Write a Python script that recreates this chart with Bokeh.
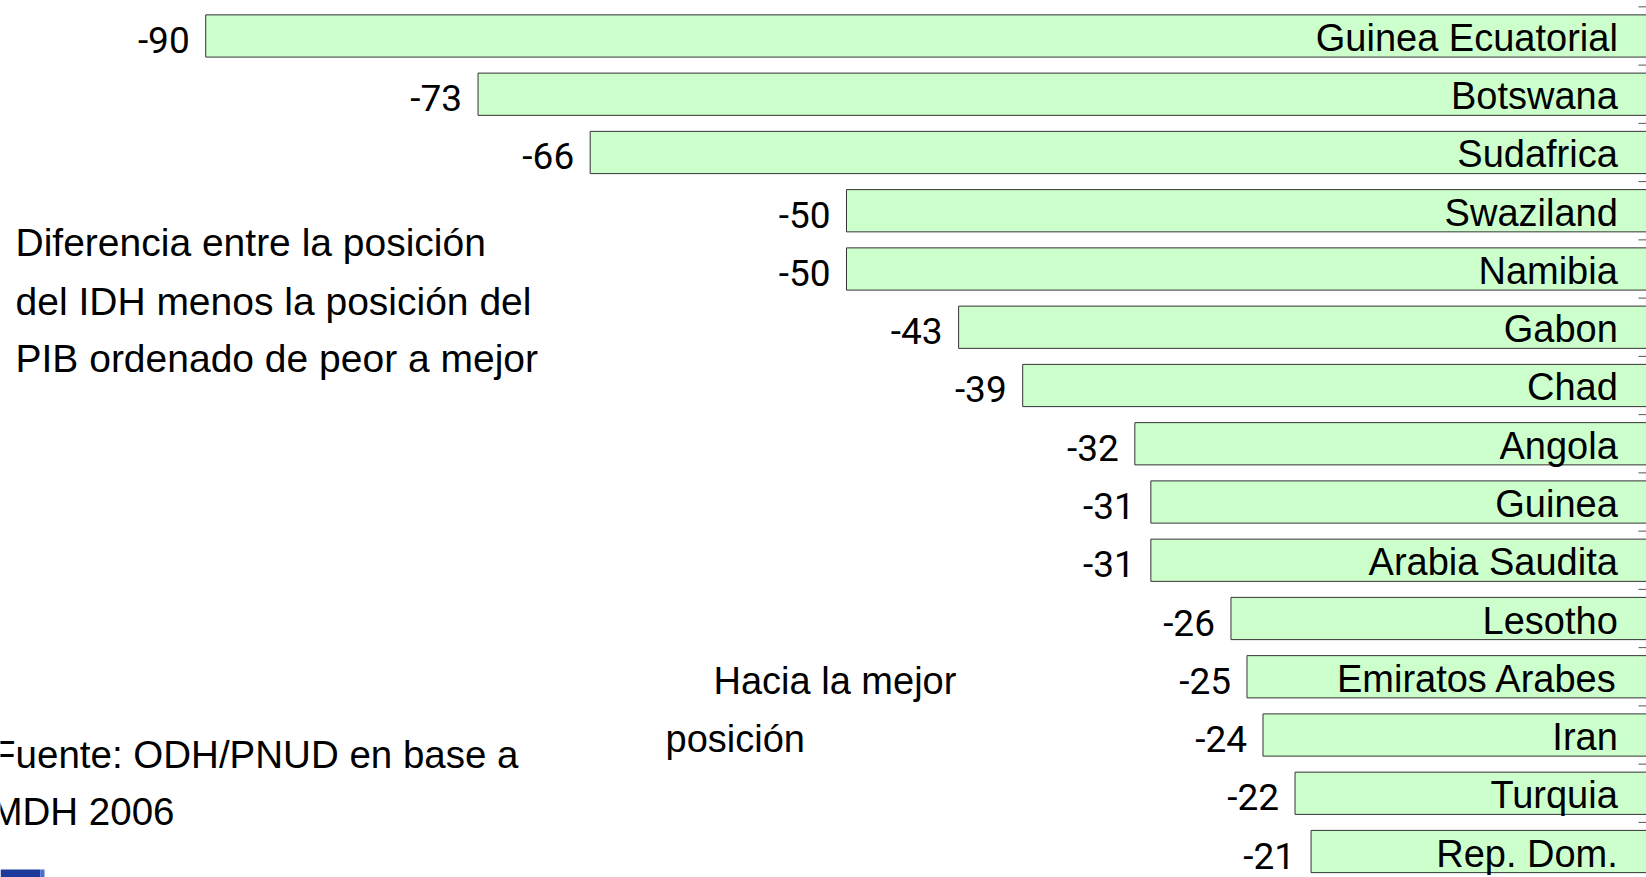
from bokeh.plotting import figure
from bokeh.models import Range1d, ColumnDataSource, Label, BoxAnnotation
from bokeh.core.properties import value
from bokeh.embed import file_html
from bokeh.resources import INLINE

# ---- data ----
countries = ["Guinea Ecuatorial", "Botswana", "Sudafrica", "Swaziland", "Namibia",
             "Gabon", "Chad", "Angola", "Guinea", "Arabia Saudita", "Lesotho",
             "Emiratos Arabes", "Iran", "Turquia", "Rep. Dom."]
values = [-90, -73, -66, -50, -50, -43, -39, -32, -31, -31, -26, -25, -24, -22, -21]
value_labels = [str(v) for v in values]

note_lines = ["Diferencia entre la posición",
              "del IDH menos la posición del",
              "PIB ordenado de peor a mejor"]
hint_lines = ["Hacia la mejor", "posición"]
source_lines = ["Fuente: ODH/PNUD en base a", "IMDH 2006"]

# ---- layout ----
W, H = 1646, 877
n = len(countries)
rows = list(range(n))
zeros = [0] * n
name_x = [-1.85] * n

src = ColumnDataSource(dict(y=rows, left=values, right=zeros, lab=value_labels,
                            name=countries, name_x=name_x))

p = figure(width=W, height=H, output_backend="svg", toolbar_location=None,
           x_range=Range1d(-102.81, -0.06), y_range=Range1d(14.446, -0.609),
           min_border=0, min_border_left=0, min_border_right=0,
           min_border_top=0, min_border_bottom=0)
p.axis.visible = False
p.grid.visible = False
p.outline_line_color = None
p.background_fill_color = "white"
p.border_fill_color = "white"

p.hbar(y="y", left="left", right="right", height=0.725, source=src,
       fill_color="#CCFFCC", line_color="#333333", line_width=1)

# category ticks on the (off-screen) zero axis
bounds = [i - 0.5 for i in range(n + 1)]
p.segment(x0=[-0.56] * len(bounds), x1=[0] * len(bounds), y0=bounds, y1=bounds,
          line_color="#555555", line_width=1)

p.text(x="left", y="y", text="lab", source=src, text_align="right",
       text_baseline="middle", x_offset=-16, y_offset=4,
       text_font=value("Roboto"), text_font_size="37px",
       text_color="black")

p.text(x="name_x", y="y", text="name", source=src, text_align="right",
       text_baseline="middle", y_offset=2,
       text_font=value("Liberation Sans"), text_font_size="38px",
       text_color="black")

def sy(ref_y):
    return H - ref_y

for line, ry in zip(note_lines, [242, 301, 358]):
    p.add_layout(Label(x=15, y=sy(ry), x_units="screen", y_units="screen", text=line,
                       text_font="Liberation Sans", text_font_size="39px",
                       text_baseline="middle", text_align="left", text_color="black"))

for line, rx, ry in zip(hint_lines, [713, 665], [680, 738]):
    p.add_layout(Label(x=rx, y=sy(ry), x_units="screen", y_units="screen", text=line,
                       text_font="Liberation Sans", text_font_size="38px",
                       text_baseline="middle", text_align="left", text_color="black"))

for line, rx, ry in zip(source_lines, [518, 174], [754, 811]):
    p.add_layout(Label(x=rx, y=sy(ry), x_units="screen", y_units="screen", text=line,
                       text_font="Liberation Sans", text_font_size="38.5px",
                       text_baseline="middle", text_align="right", text_color="black"))

p.add_layout(BoxAnnotation(left=0, right=40, bottom=0, top=8,
                           left_units="screen", right_units="screen",
                           bottom_units="screen", top_units="screen",
                           fill_color="#1B3A9A", fill_alpha=1.0, line_color=None))
p.add_layout(BoxAnnotation(left=40, right=44, bottom=0, top=8,
                           left_units="screen", right_units="screen",
                           bottom_units="screen", top_units="screen",
                           fill_color="#4A6FD0", fill_alpha=1.0, line_color=None))

open("out.html", "w").write(file_html(p, INLINE))
